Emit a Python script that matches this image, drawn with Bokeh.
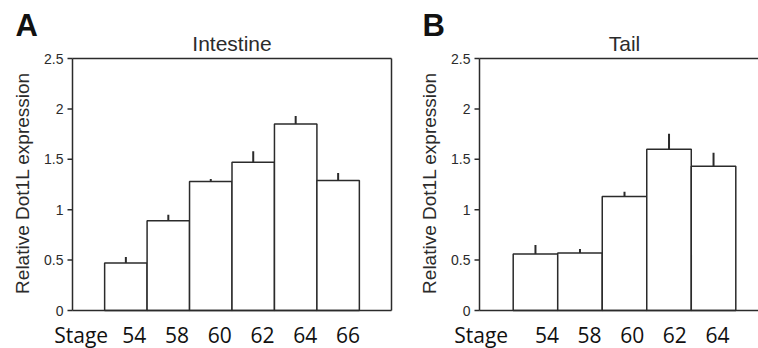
import math
from bokeh.plotting import figure
from bokeh.layouts import row
from bokeh.models import Range1d
from bokeh.core.properties import value
from bokeh.embed import file_html
from bokeh.resources import INLINE

# ---- data ----
intestine_stages = ["54", "58", "60", "62", "64", "66"]
intestine_expr = [0.47, 0.89, 1.28, 1.47, 1.85, 1.29]
intestine_err = [0.06, 0.06, 0.025, 0.11, 0.08, 0.075]

tail_stages = ["54", "58", "60", "62", "64"]
tail_expr = [0.56, 0.57, 1.13, 1.60, 1.43]
tail_err = [0.09, 0.04, 0.047, 0.153, 0.136]

y_ticks = [0, 0.5, 1, 1.5, 2, 2.5]
y_tick_labels = ["0", "0.5", "1", "1.5", "2", "2.5"]

stage_word = "Stage"
y_title = "Relative Dot1L expression"

# ---- style / layout ----
INK = "#2b2b2b"
H = 348
TOP = 58
FRAME_H = 252
BOTTOM = H - TOP - FRAME_H
YMAX = 2.5
YPX = FRAME_H / YMAX
PAD = 0.757
SANS = "Liberation Sans"
CAL = "Open Sans"


def panel(letter, title, stages, vals, errs, width, frame_left, frame_full,
          stage_dx, stage_drift, word_dx, right_border):
    n = len(stages)
    s = 0.5 - PAD
    e = n + 0.5 + PAD
    xpx = frame_full / (e - s)
    px = lambda d: d / xpx        # horizontal pixels -> data units
    py = lambda d: d / YPX        # vertical pixels -> data units
    p = figure(width=width, height=H,
               x_range=Range1d(s - px(frame_left), s + px(width - frame_left)),
               y_range=Range1d(-py(BOTTOM), YMAX + py(TOP)),
               output_backend="svg", toolbar_location=None, x_axis_type=None, y_axis_type=None,
               min_border=0, min_border_left=0, min_border_right=0, min_border_top=0,
               min_border_bottom=0, title=None)
    p.outline_line_color = None
    p.grid.visible = False

    xs = list(range(1, n + 1))
    # bars and error bars
    p.vbar(x=xs, top=vals, bottom=0, width=1, fill_color="white", line_color=INK, line_width=1.5)
    p.segment(x0=xs, y0=vals, x1=xs, y1=[v + er for v, er in zip(vals, errs)],
              line_color=INK, line_width=2)

    # plot box (axis lines)
    bx0 = [s, s, s]
    by0 = [0, 0, YMAX]
    bx1 = [s, e, e]
    by1 = [YMAX, 0, YMAX]
    if right_border:
        bx0.append(e); by0.append(0); bx1.append(e); by1.append(YMAX)
    p.segment(x0=bx0, y0=by0, x1=bx1, y1=by1, line_color=INK, line_width=1.5)

    # y ticks + labels
    p.segment(x0=[s - px(5)] * len(y_ticks), y0=y_ticks, x1=[s] * len(y_ticks), y1=y_ticks,
              line_color=INK, line_width=1.5)
    p.text(x=[s] * len(y_ticks), y=y_ticks, text=y_tick_labels, x_offset=-9,
           text_align="right", text_baseline="middle", text_font=value(SANS),
           text_font_size="14px", text_color=INK)

    # y title
    p.text(x=[s], y=[YMAX / 2 + py(1.5)], text=[y_title], x_offset=-50.5, angle=math.pi / 2,
           text_align="center", text_baseline="middle", text_font=value(SANS),
           text_font_size="19px", text_color=INK)

    # panel title and letter (vertically centred on their capitals)
    p.text(x=[(s + e) / 2], y=[YMAX + py(15.5)], text=[title], text_align="center",
           text_baseline="middle", text_font=value(SANS), text_font_size="21px",
           text_color=INK)
    p.text(x=[s], y=[YMAX + py(33.5)], text=[letter], x_offset=-57, text_align="left",
           text_baseline="middle", text_font=value(SANS), text_font_style="bold",
           text_font_size="31px", text_color="#111111")

    # stage labels
    lab_x = [xs[0] + px(word_dx)] + [x + px(stage_dx + stage_drift * i) for i, x in enumerate(xs)]
    lab_t = [stage_word] + stages
    p.text(x=lab_x, y=[-py(24.5)] * len(lab_x), text=lab_t, text_align="center",
           text_baseline="middle", text_font=value(CAL), text_font_size="21px",
           text_color="#111111")
    return p


pA = panel("A", "Intestine", intestine_stages, intestine_expr, intestine_err,
           width=400, frame_left=72, frame_full=319, stage_dx=8.5, stage_drift=0.25,
           word_dx=-44.7, right_border=True)
pB = panel("B", "Tail", tail_stages, tail_expr, tail_err,
           width=358, frame_left=79, frame_full=290, stage_dx=11.5, stage_drift=-1.9,
           word_dx=-54.3, right_border=False)

layout = row(pA, pB)
open("out.html", "w").write(file_html(layout, INLINE))
